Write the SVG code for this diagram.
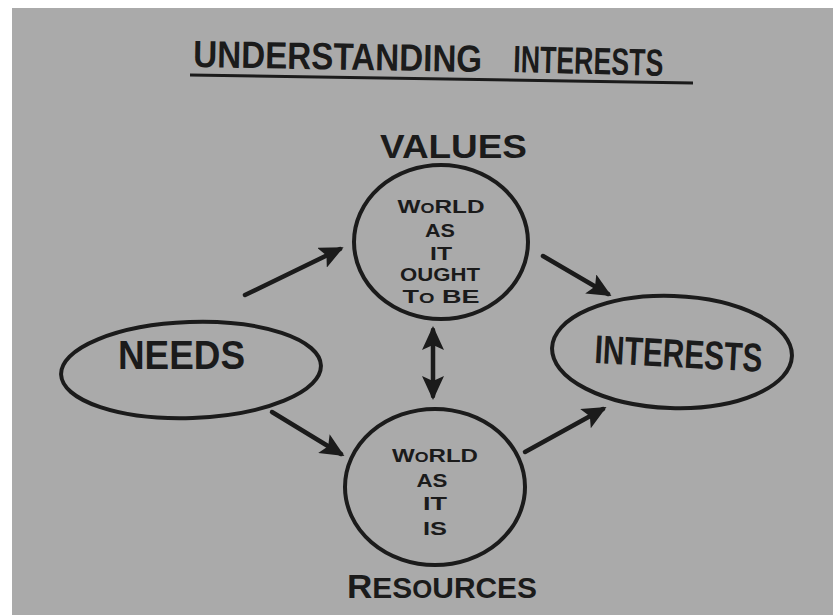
<svg xmlns="http://www.w3.org/2000/svg" width="833" height="615" viewBox="0 0 833 615">
  <style>
    .ink { fill: none; stroke: #1b1b1b; stroke-width: 4; }
    .lbl { fill: #1b1b1b; font-family: "Liberation Sans", "DejaVu Sans", sans-serif; font-weight: bold; }
    .big { font-size: 40px; }
    .small { font-size: 19px; text-anchor: middle; }
    .conn { stroke: #1b1b1b; stroke-width: 4.5; fill: none; stroke-linecap: round; }
  </style>
  <defs>
    <marker id="head" viewBox="0 0 24 22" refX="20" refY="11" markerWidth="24" markerHeight="22" markerUnits="userSpaceOnUse" orient="auto-start-reverse">
      <path d="M0,0 L24,11 L0,22 L5,11 z" fill="#1b1b1b"/>
    </marker>
  </defs>

  <!-- paper -->
  <rect x="0" y="0" width="833" height="615" fill="#ffffff"/>
  <rect x="12" y="8" width="821" height="607" fill="#aaaaaa"/>

  <!-- title -->
  <g id="title">
    <text class="lbl" x="193" y="67" font-size="38" textLength="289" lengthAdjust="spacingAndGlyphs" transform="rotate(1 193 67)">UNDERSTANDING</text>
    <text class="lbl" x="513" y="72" font-size="38" textLength="150" lengthAdjust="spacingAndGlyphs" transform="rotate(1.5 513 72)">INTERESTS</text>
    <line x1="190" y1="75" x2="693" y2="83" stroke="#1b1b1b" stroke-width="3"/>
  </g>

  <!-- needs -->
  <g id="needs">
    <ellipse class="ink" cx="191" cy="370" rx="130" ry="48" transform="rotate(-2 191 370)"/>
    <text class="lbl big" x="118" y="369" textLength="127" lengthAdjust="spacingAndGlyphs">NEEDS</text>
  </g>

  <!-- values / world as it ought to be -->
  <g id="values">
    <text class="lbl" x="380" y="158" font-size="34" textLength="147" lengthAdjust="spacingAndGlyphs">VALUES</text>
    <ellipse class="ink" cx="441" cy="242" rx="87" ry="77"/>
    <text class="lbl small" x="441" y="213" textLength="87" lengthAdjust="spacingAndGlyphs">W<tspan font-size="14">O</tspan>RLD</text>
    <text class="lbl small" x="440" y="237" textLength="30" lengthAdjust="spacingAndGlyphs">AS</text>
    <text class="lbl small" x="441" y="260" textLength="22" lengthAdjust="spacingAndGlyphs">IT</text>
    <text class="lbl small" x="440" y="281" textLength="80" lengthAdjust="spacingAndGlyphs">OUGHT</text>
    <text class="lbl small" x="441" y="303" textLength="77" lengthAdjust="spacingAndGlyphs">T<tspan font-size="14">O</tspan> BE</text>
  </g>

  <!-- resources / world as it is -->
  <g id="resources">
    <ellipse class="ink" cx="435" cy="487" rx="90" ry="78"/>
    <text class="lbl small" x="435" y="462" textLength="86" lengthAdjust="spacingAndGlyphs">W<tspan font-size="14">O</tspan>RLD</text>
    <text class="lbl small" x="432" y="487" textLength="31" lengthAdjust="spacingAndGlyphs">AS</text>
    <text class="lbl small" x="435" y="510" textLength="24" lengthAdjust="spacingAndGlyphs">IT</text>
    <text class="lbl small" x="435" y="535" textLength="24" lengthAdjust="spacingAndGlyphs">IS</text>
    <text class="lbl" x="347" y="598" font-size="34" textLength="190" lengthAdjust="spacingAndGlyphs">R<tspan font-size="29">ES</tspan><tspan font-size="25">O</tspan><tspan font-size="29">URCES</tspan></text>
  </g>

  <!-- interests -->
  <g id="interests">
    <ellipse class="ink" cx="672" cy="352" rx="120" ry="56" transform="rotate(2 672 352)"/>
    <text class="lbl" x="594" y="363" font-size="40" textLength="168" lengthAdjust="spacingAndGlyphs" transform="rotate(3 594 363)">INTERESTS</text>
  </g>

  <!-- connectors -->
  <g id="connectors">
    <line class="conn" x1="245" y1="295" x2="340" y2="249" marker-end="url(#head)"/>
    <line class="conn" x1="543" y1="256" x2="608" y2="294" marker-end="url(#head)"/>
    <line class="conn" x1="272" y1="412" x2="341" y2="454" marker-end="url(#head)"/>
    <line class="conn" x1="525" y1="452" x2="603" y2="409" marker-end="url(#head)"/>
    <line class="conn" x1="433" y1="330" x2="433" y2="396" marker-start="url(#head)" marker-end="url(#head)"/>
  </g>
</svg>
